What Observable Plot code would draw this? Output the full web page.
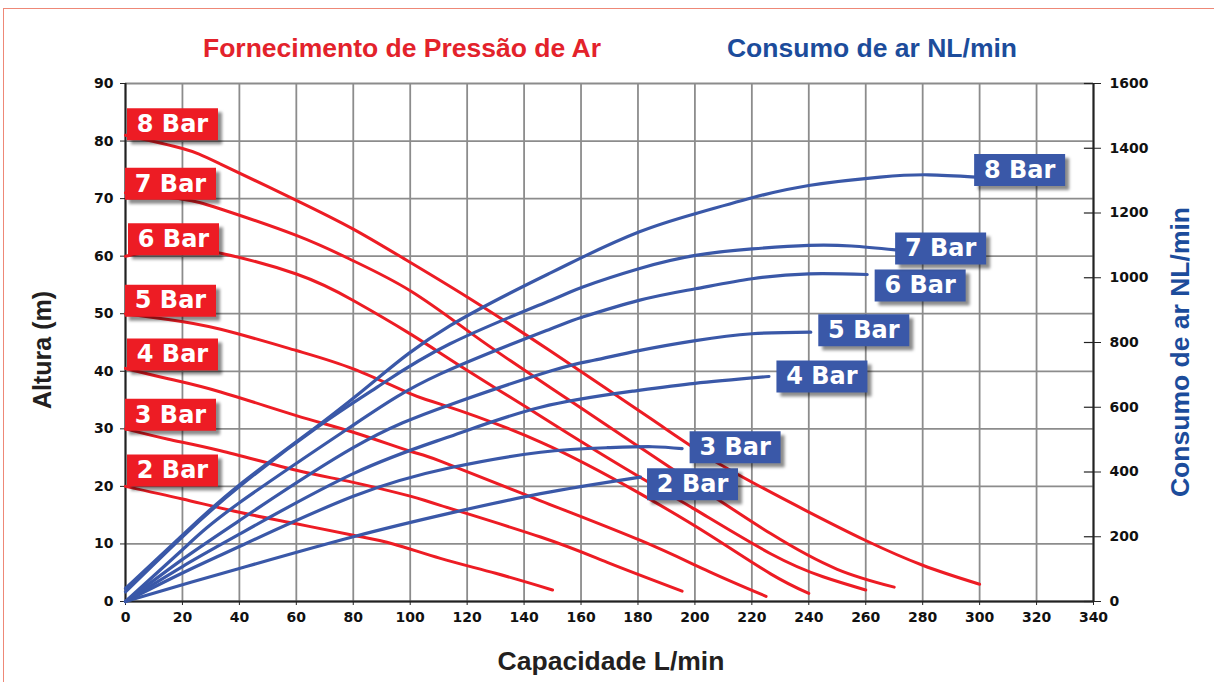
<!DOCTYPE html>
<html><head><meta charset="utf-8">
<script src="https://cdn.jsdelivr.net/npm/d3@7"></script>
<script src="https://cdn.jsdelivr.net/npm/@observablehq/plot@0.6"></script>
<style>
body{margin:0;background:#fff;}
#wrap{position:relative;width:1214px;height:682px;overflow:hidden;font-family:"Liberation Sans",Arial,sans-serif;}
#frame{position:absolute;left:3px;top:8px;width:1300px;height:800px;border-left:1.5px solid #EE8877;border-top:1.5px solid #EE8877;}
#chart{position:absolute;left:0;top:0;}
.t{position:absolute;font-weight:bold;white-space:nowrap;line-height:1;font-size:26.5px;}
g[aria-description="shadow"]{filter:blur(1.5px);}
</style></head>
<body>
<div id="wrap">
  <div id="frame"></div>
  <div id="chart"></div>
  <div class="t" style="left:402px;top:35px;transform:translateX(-50%);color:#E3222B;">Fornecimento de Pressão de Ar</div>
  <div class="t" style="left:872px;top:35px;transform:translateX(-50%);color:#1C4C9B;">Consumo de ar NL/min</div>
  <div class="t" style="left:611px;top:648px;transform:translateX(-50%);color:#231F20;">Capacidade L/min</div>
  <div class="t" style="left:42px;top:350px;transform:translate(-50%,-50%) rotate(-90deg);color:#231F20;font-size:25px;">Altura (m)</div>
  <div class="t" style="left:1180px;top:352px;transform:translate(-50%,-50%) rotate(-90deg);color:#1C4C9B;">Consumo de ar NL/min</div>
</div>
<script>
// ---- tick values ----
const capTicks = [0,20,40,60,80,100,120,140,160,180,200,220,240,260,280,300,320,340];
const altTicks = [0,10,20,30,40,50,60,70,80,90];
const nlTicks  = [0,200,400,600,800,1000,1200,1400,1600];
const seriesNames = ["2 Bar","3 Bar","4 Bar","5 Bar","6 Bar","7 Bar","8 Bar"];

// ---- Altura (m) vs Capacidade (L/min) ----
const p2 = [[0,20],[20,17.8],[40,15.5],[60,13.5],[80,11.5],[94,10],[110.6,7.5],[130,4.9],[150,2]];
const p3 = [[0,30],[15,28.2],[33.4,26.2],[60,22.8],[80,20.7],[100,18.3],[110.6,16.7],[145.8,11.2],[169.2,6.8],[195.5,1.8]];
const p4 = [[0,40.5],[15,38.7],[33.4,36.4],[60,32.3],[80,29.4],[100,26.1],[110.6,24.4],[145.8,17.5],[180.9,10.6],[205,5.2],[225,0.9]];
const p5 = [[0,50],[15,49],[33.4,47.3],[60,43.6],[80,40.4],[100,36.1],[110.6,34.3],[145.8,27.7],[180.9,18.7],[205,11.6],[226.6,4.8],[240,1.4]];
const p6 = [[0,60],[10,60.8],[22,61],[33.4,60.5],[60,56.9],[80,52.3],[100,46.5],[118,40.8],[140,34],[160,27.8],[180,21.8],[200,16],[226.6,8.3],[245,4.3],[260,2]];
const p7 = [[0,71],[20,69.9],[33.4,68.2],[60,63.6],[80,59.2],[100,54],[120,47.1],[135,41.9],[160,33.6],[180,27],[200,20.4],[226.6,11.8],[250,5.6],[270,2.5]];
const p8 = [[0,81],[20,78.7],[33.4,76],[60,69.7],[80,64.7],[97,59.8],[120,52.9],[149,43.6],[185.6,31.4],[210,23.5],[239,15.8],[260,10.6],[280,6.3],[300,3]];

// ---- Consumo de ar (NL/min) vs Capacidade (L/min) ----
const a2 = [[0,0],[20,52],[40,102],[80,200],[114,273],[145.8,333],[180.9,384]];
const a3 = [[0,0],[20,88],[40,170],[80,325],[114,413],[145.8,461],[169.2,475],[185,478],[195.5,472]];
const a4 = [[0,0],[20,108],[40,208],[80,395],[114,510],[145.8,600],[178.5,650],[200,674],[226,695]];
const a5 = [[0,0],[20,130],[40,250],[80,475],[114,608],[149.3,712],[164.5,745],[180.3,775],[200.2,806],[220.1,827],[240.7,832]];
const a6 = [[0,0],[20,160],[40,305],[80,545],[110.6,703],[149.3,842],[160.4,878],[180.3,930],[200.2,966],[220.1,997],[240,1012],[260.5,1010]];
const a7 = [[0,30],[20,200],[40,355],[68.5,545],[88.4,662],[114,796],[149.3,930],[160.4,971],[180.3,1028],[200.2,1069],[220.1,1089],[240,1100],[255,1098],[270.5,1086]];
const a8 = [[0,40],[20,205],[40,360],[68.5,549],[88.4,688],[114,852],[149.3,1015],[160.4,1063],[180.3,1141],[200.2,1198],[220.1,1247],[240,1285],[265,1311],[282,1318],[298.6,1311]];

const pressure = [p2,p3,p4,p5,p6,p7,p8];
const air = [a2,a3,a4,a5,a6,a7,a8];
const NLMAX = 1600, HMAX = 90;
const toH = nl => nl * HMAX / NLMAX;

const redRows = pressure.flatMap((s,i) => s.map(([cap,h]) => ({series:seriesNames[i], cap, h})));
const blueRows = air.flatMap((s,i) => s.map(([cap,nl]) => ({series:seriesNames[i], cap, h: toH(nl)})));

// label layout (pixel nudges from the curve start / end)
const redNudge  = {"2 Bar":[47,-16],"3 Bar":[45,-14],"4 Bar":[47,-14],"5 Bar":[45,-13],"6 Bar":[48,-17],"7 Bar":[45,-9],"8 Bar":[47,-11]};
const blueNudge = {"2 Bar":[52,7],"3 Bar":[53,-1.5],"4 Bar":[53,0],"5 Bar":[53,-2],"6 Bar":[53,11],"7 Bar":[45,-1.5],"8 Bar":[44,-7]};

const RED = "#ED1C24", BLUE = "#3A58A8";
const box = {draw(ctx){ ctx.moveTo(-45.5,-16); ctx.lineTo(45.5,-16); ctx.lineTo(45.5,16); ctx.lineTo(-45.5,16); ctx.closePath(); }};

function labelMarks(row, fill, [dx,dy]) {
  return [
    Plot.dot([row], {x:"cap", y:"h", symbol:box, r:1, fill:"#000", fillOpacity:0.45, dx:dx+4, dy:dy+4, ariaDescription:"shadow"}),
    Plot.dot([row], {x:"cap", y:"h", symbol:box, r:1, fill, dx, dy}),
    Plot.text([row], {x:"cap", y:"h", text:"series", dx, dy, fill:"white", fontSize:24, fontWeight:"bold", fontFamily:"DejaVu Sans", textAnchor:"middle"})
  ];
}

const labels = [];
seriesNames.forEach((name,i) => {
  const s = pressure[i][0];
  labels.push(...labelMarks({series:name, cap:s[0], h:s[1]}, RED, redNudge[name]));
});
seriesNames.forEach((name,i) => {
  const e = air[i][air[i].length-1];
  labels.push(...labelMarks({series:name, cap:e[0], h:toH(e[1])}, BLUE, blueNudge[name]));
});

const chart = Plot.plot({
  width:1214, height:682,
  marginLeft:125, marginRight:121, marginTop:83, marginBottom:81,
  x:{domain:[0,340]}, y:{domain:[0,90]},
  style:{fontFamily:"DejaVu Sans", fontWeight:"bold", fontSize:"14px", color:"#111", background:"transparent", overflow:"visible"},
  marks:[
    Plot.gridX(capTicks, {stroke:"#8c8c8c", strokeOpacity:1, strokeWidth:1.8}),
    Plot.gridY(altTicks, {stroke:"#8c8c8c", strokeOpacity:1, strokeWidth:1.8}),
    Plot.axisX(capTicks, {tickSize:4, tickPadding:7, label:null, fill:"#111", stroke:"#222", fontSize:14}),
    Plot.axisY(altTicks, {anchor:"left", tickSize:5, tickPadding:7, label:null, fill:"#111", stroke:"#222", fontSize:14}),
    Plot.axisY(nlTicks.map(toH), {anchor:"right", tickSize:7, tickPadding:9, label:null, fill:"#111", stroke:"#222", fontSize:14, tickFormat:d => String(Math.round(d*NLMAX/HMAX))}),
    Plot.ruleY(nlTicks.map(toH), {x1:336.8, x2:340, stroke:"#222", strokeWidth:1.2}),
    Plot.ruleX([0, 340], {stroke:"#222", strokeWidth:2}),
    Plot.ruleY([0], {stroke:"#222", strokeWidth:2}),
    Plot.line(redRows, {x:"cap", y:"h", z:"series", stroke:RED, strokeWidth:3, curve:"natural"}),
    Plot.line(blueRows, {x:"cap", y:"h", z:"series", stroke:BLUE, strokeWidth:3.2, curve:"natural"}),
    ...labels
  ]
});
document.getElementById("chart").appendChild(chart);
</script>
</body></html>
